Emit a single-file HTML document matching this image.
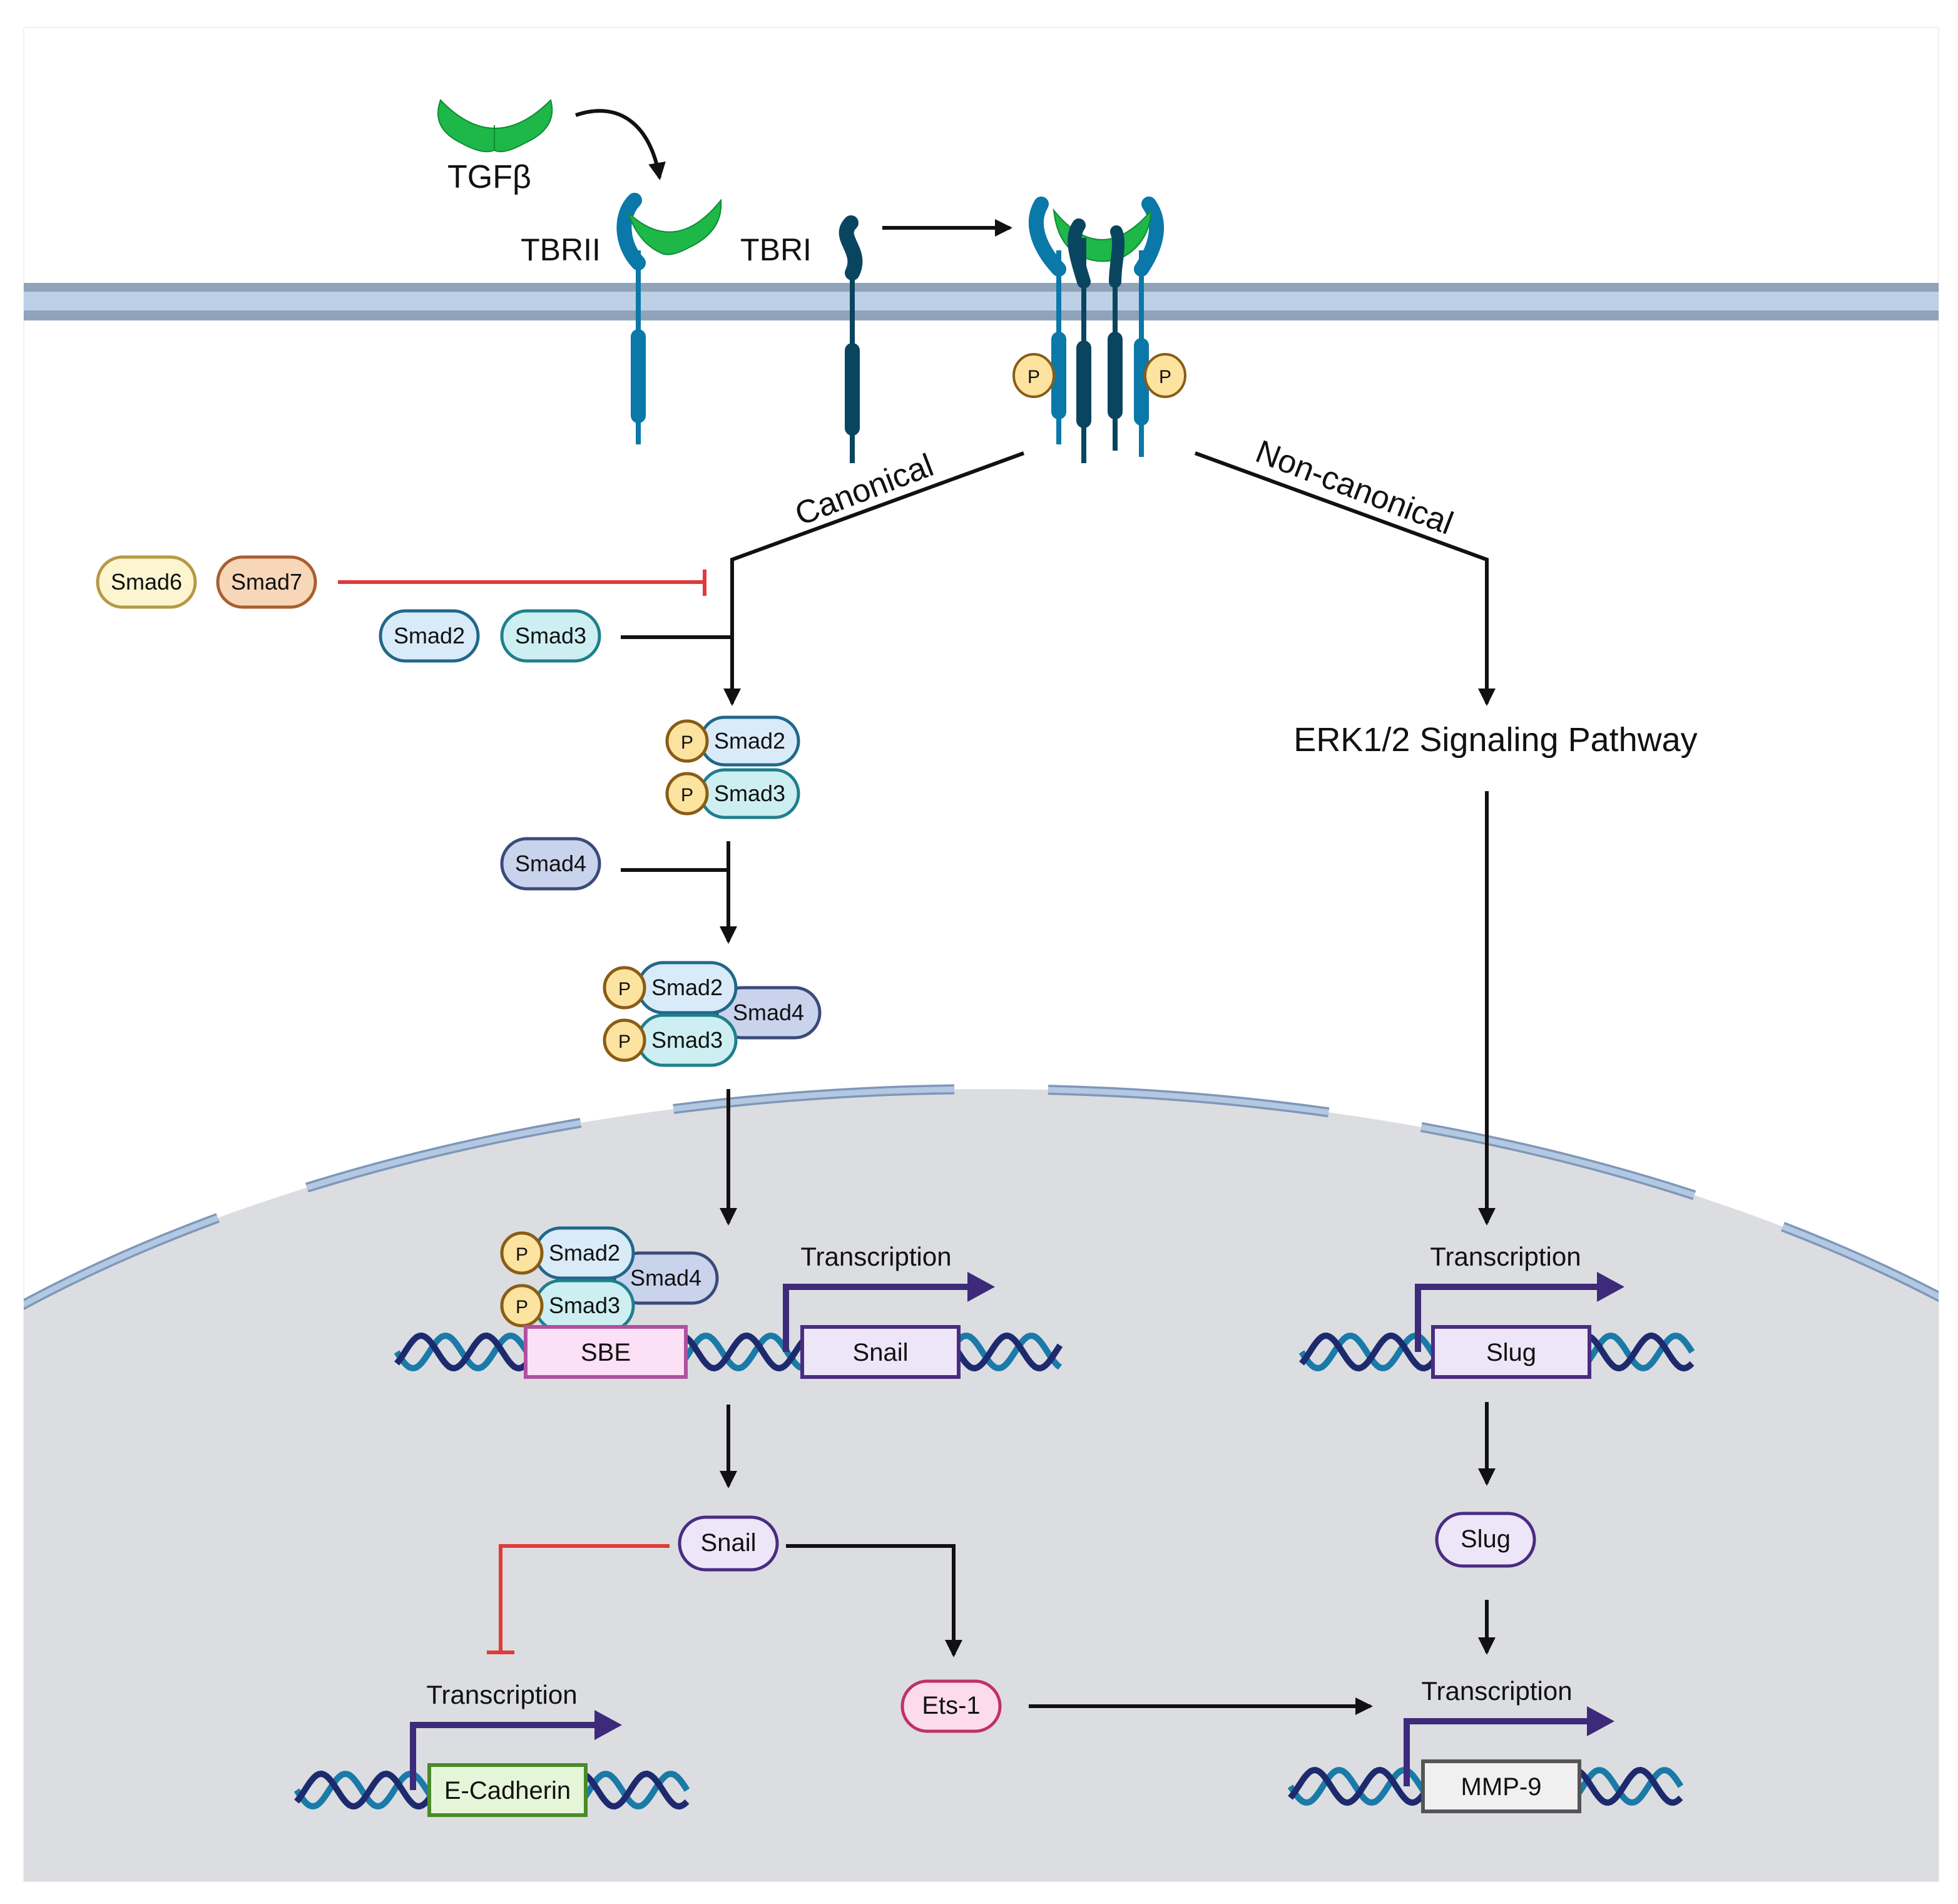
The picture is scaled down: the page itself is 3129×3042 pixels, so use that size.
<!DOCTYPE html>
<html><head><meta charset="utf-8"><style>
html,body{margin:0;padding:0;background:#fff;width:3129px;height:3042px;overflow:hidden}
svg{display:block}
text{font-family:"Liberation Sans",sans-serif;fill:#111}
</style></head><body>
<svg id="s" width="3129" height="3042" viewBox="0 0 1564.5 1521" xmlns="http://www.w3.org/2000/svg">
<defs>
<clipPath id="fr"><rect x="19" y="22" width="1530" height="1481"/></clipPath>
<marker id="ah" markerWidth="14" markerHeight="14" refX="12" refY="7" orient="auto" markerUnits="userSpaceOnUse" viewBox="0 0 14 14"><path d="M0,0 L14,7 L0,14 Z" fill="#111"/></marker>
</defs>
<rect x="0" y="0" width="1564.5" height="1521" fill="#fff"/>
<rect x="19" y="22" width="1530" height="1481" fill="#fff" stroke="#f0f0f0"/>
<g clip-path="url(#fr)">
<ellipse cx="790" cy="1470" rx="1100" ry="600" fill="#dcdde1"/>
<ellipse cx="790" cy="1470" rx="1100" ry="600" fill="none" stroke="#7f97b8" stroke-width="8" stroke-dasharray="225,75" stroke-dashoffset="60"/>
<ellipse cx="790" cy="1470" rx="1100" ry="600" fill="none" stroke="#b3c8e2" stroke-width="4.5" stroke-dasharray="225,75" stroke-dashoffset="60"/>
<rect x="19" y="226" width="1530" height="30" fill="#8fa3bb"/>
<rect x="19" y="233" width="1530" height="15" fill="#bdd0e6"/>
</g>

<!-- TGFb -->
<path d="M352,80 Q395,125 440,80 Q446,102 420,114 Q402,124 395,120 Q386,124 368,114 Q344,102 352,80Z" fill="#1db848" stroke="#0f8c34" stroke-width="1"/>
<path d="M395,100 L395,120" stroke="#0f8c34" stroke-width="1"/>
<text x="391" y="150" font-size="26" text-anchor="middle">TGFβ</text>
<path d="M460,92 C495,80 520,100 527,142" fill="none" stroke="#111" stroke-width="3" marker-end="url(#ah)"/>

<!-- TBRII -->
<line x1="510" y1="200" x2="510" y2="355" stroke="#0a78a8" stroke-width="4"/>
<rect x="504" y="263" width="12" height="75" rx="6" fill="#0a78a8"/>
<path d="M507,160 C495,172 496,195 510,210" fill="none" stroke="#0a78a8" stroke-width="12" stroke-linecap="round"/>
<path d="M502,170 Q540,205 576,160 Q578,185 550,198 Q535,206 528,202 Q510,194 502,170Z" fill="#1db848" stroke="#0f8c34"/>
<text x="448" y="208" font-size="25" text-anchor="middle">TBRII</text>
<!-- TBRI -->
<line x1="681" y1="210" x2="681" y2="370" stroke="#0a4560" stroke-width="4"/>
<rect x="675" y="274" width="12" height="74" rx="6" fill="#0a4560"/>
<path d="M680,178 C668,190 690,200 681,218" fill="none" stroke="#0a4560" stroke-width="12" stroke-linecap="round"/>
<text x="620" y="208" font-size="25" text-anchor="middle">TBRI</text>
<line x1="705" y1="182" x2="807" y2="182" stroke="#111" stroke-width="3" marker-end="url(#ah)"/>

<!-- complex -->
<g>
<line x1="846" y1="200" x2="846" y2="355" stroke="#0a78a8" stroke-width="4"/>
<rect x="840" y="265" width="12" height="70" rx="6" fill="#0a78a8"/>
<path d="M832,163 C822,180 832,200 846,215" fill="none" stroke="#0a78a8" stroke-width="12" stroke-linecap="round"/>
<line x1="912" y1="200" x2="912" y2="365" stroke="#0a78a8" stroke-width="4"/>
<rect x="906" y="270" width="12" height="70" rx="6" fill="#0a78a8"/>
<path d="M918,163 C930,180 922,200 912,215" fill="none" stroke="#0a78a8" stroke-width="12" stroke-linecap="round"/>
<path d="M842,168 Q880,215 920,168 Q918,195 896,206 Q880,212 864,205 Q845,196 842,168Z" fill="#1db848" stroke="#0f8c34"/>
<line x1="866" y1="190" x2="866" y2="370" stroke="#0a4560" stroke-width="4"/>
<rect x="860" y="272" width="12" height="70" rx="6" fill="#0a4560"/>
<path d="M862,180 C855,190 860,205 866,225" fill="none" stroke="#0a4560" stroke-width="11" stroke-linecap="round"/>
<line x1="891" y1="190" x2="891" y2="360" stroke="#0a4560" stroke-width="4"/>
<rect x="885" y="265" width="12" height="70" rx="6" fill="#0a4560"/>
<path d="M892,185 C896,195 891,210 891,225" fill="none" stroke="#0a4560" stroke-width="10" stroke-linecap="round"/>
<ellipse cx="826" cy="300" rx="16" ry="17" fill="#fde3a0" stroke="#8a5c14" stroke-width="2"/><text x="826" y="306" font-size="15" text-anchor="middle">P</text>
<ellipse cx="931" cy="300" rx="16" ry="17" fill="#fde3a0" stroke="#8a5c14" stroke-width="2"/><text x="931" y="306" font-size="15" text-anchor="middle">P</text>
</g>

<!-- branches -->
<polyline points="818,362 585,447 585,562" fill="none" stroke="#111" stroke-width="3" marker-end="url(#ah)"/>
<polyline points="955,362 1188,447 1188,562" fill="none" stroke="#111" stroke-width="3" marker-end="url(#ah)"/>
<text x="690" y="400" font-size="26" text-anchor="middle" transform="rotate(-21 690 390)">Canonical</text>
<text x="1082" y="398" font-size="26" text-anchor="middle" transform="rotate(21 1082 390)">Non-canonical</text>

<g id="pills"></g>

<line x1="270" y1="465" x2="563" y2="465" stroke="#e03a3a" stroke-width="3"/>
<line x1="563" y1="455" x2="563" y2="476" stroke="#e03a3a" stroke-width="3"/>
<line x1="496" y1="509" x2="585" y2="509" stroke="#111" stroke-width="3"/>
<line x1="496" y1="695" x2="582" y2="695" stroke="#111" stroke-width="3"/>
<line x1="582" y1="672" x2="582" y2="752" stroke="#111" stroke-width="3" marker-end="url(#ah)"/>
<line x1="582" y1="870" x2="582" y2="977" stroke="#111" stroke-width="3" marker-end="url(#ah)"/>
<text x="1195" y="600" font-size="27" text-anchor="middle">ERK1/2 Signaling Pathway</text>
<line x1="1188" y1="632" x2="1188" y2="977" stroke="#111" stroke-width="3" marker-end="url(#ah)"/>
<line x1="582" y1="1122" x2="582" y2="1187" stroke="#111" stroke-width="3" marker-end="url(#ah)"/>
<line x1="1188" y1="1120" x2="1188" y2="1185" stroke="#111" stroke-width="3" marker-end="url(#ah)"/>
<line x1="1188" y1="1278" x2="1188" y2="1320" stroke="#111" stroke-width="3" marker-end="url(#ah)"/>
<polyline points="535,1235 400,1235 400,1320" fill="none" stroke="#e03a3a" stroke-width="3"/>
<line x1="389" y1="1320" x2="411" y2="1320" stroke="#e03a3a" stroke-width="3"/>
<polyline points="628,1235 762,1235 762,1322" fill="none" stroke="#111" stroke-width="3" marker-end="url(#ah)"/>
<line x1="822" y1="1363" x2="1095" y2="1363" stroke="#111" stroke-width="3" marker-end="url(#ah)"/>
<g id="dna"></g>
</svg>
<script>
var NS="http://www.w3.org/2000/svg";
function el(p,t,a,txt){var e=document.createElementNS(NS,t);for(var k in a)e.setAttribute(k,a[k]);if(txt!==undefined)e.textContent=txt;p.appendChild(e);return e;}
var P=document.getElementById('pills'),D=document.getElementById('dna');
function pill(cx,cy,w,h,f,s,t,fs,tx){el(P,'rect',{x:cx-w/2,y:cy-h/2,width:w,height:h,rx:h/2,fill:f,stroke:s,'stroke-width':2.5});el(P,'text',{x:(tx||cx),y:cy+6,'font-size':fs||18,'text-anchor':'middle'},t);}
function pc(cx,cy){el(P,'circle',{cx:cx,cy:cy,r:16,fill:'#fde3a0',stroke:'#8a5c14','stroke-width':2.5});el(P,'text',{x:cx,y:cy+6,'font-size':15,'text-anchor':'middle'},'P');}
var S2f='#d9ebf8',S2s='#21678a',S3f='#cdeff2',S3s='#1f7f8c',S4f='#c9d3ec',S4s='#3a4a7a';
pill(117,465,78,40,'#fdf5d0','#b59a45','Smad6');
pill(213,465,78,40,'#f8d7b8','#a8602e','Smad7');
pill(343,508,78,40,S2f,S2s,'Smad2');
pill(440,508,78,40,S3f,S3s,'Smad3');
pill(440,690,78,40,S4f,S4s,'Smad4');
pill(599,592,78,38,S2f,S2s,'Smad2');pc(549,592);
pill(599,634,78,38,S3f,S3s,'Smad3');pc(549,634);
function tri(x,y){pill(x+115,y+20,82,40,S4f,S4s,'Smad4',18,x+115);pill(x+50,y,78,40,S2f,S2s,'Smad2');pill(x+50,y+42,78,40,S3f,S3s,'Smad3');pc(x,y);pc(x,y+42);}
tri(499,789);
tri(417,1001);
pill(582,1233,78,42,'#ece6f8','#4a2c82','Snail',20);
pill(1187,1230,78,42,'#ece6f8','#4a2c82','Slug',20);
pill(760,1363,78,40,'#fcdcec','#c0306a','Ets-1',20);
function dna(x1,x2,y){var per=52,a=13;['#1a7aa8','#1d2a6e'].forEach(function(c,i){var d='';for(var x=x1;x<=x2;x+=2){var yy=y+a*Math.sin((x-x1)/per*2*Math.PI+i*Math.PI*0.75);d+=(x==x1?'M':'L')+x+','+yy.toFixed(1);}el(D,'path',{d:d,fill:'none',stroke:c,'stroke-width':5});});}
function gene(x1,x2,y,bx,bw,bf,bs,lab,ax,ay,aend,tx){dna(x1,x2,y);
el(D,'rect',{x:bx,y:y-20,width:bw,height:40,fill:bf,stroke:bs,'stroke-width':3});el(D,'text',{x:bx+bw/2,y:y+7,'font-size':20,'text-anchor':'middle'},lab);
if(ax){el(D,'polyline',{points:ax+','+(y)+' '+ax+','+ay+' '+(aend-18)+','+ay,fill:'none',stroke:'#3d2a7a','stroke-width':5});el(D,'path',{d:'M'+(aend-22)+','+(ay-12)+' L'+aend+','+ay+' L'+(aend-22)+','+(ay+12)+'Z',fill:'#3d2a7a'});el(D,'text',{x:tx,y:ay-17,'font-size':21,'text-anchor':'middle'},'Transcription');}}
gene(317,848,1080,420,128,'#fce0f6','#b050a0','SBE');
gene(317,317,1080,641,125,'#ece6f8','#4a2c82','Snail',628,1028,795,700);
gene(1040,1352,1080,1145,125,'#ece6f8','#4a2c82','Slug',1133,1028,1298,1203);
gene(237,550,1430,343,125,'#e4f5d8','#4a8a2a','E-Cadherin',330,1378,497,401);
gene(1031,1344,1427,1137,125,'#f0f0f0','#555','MMP-9',1124,1375,1290,1196);
</script>
</body></html>
